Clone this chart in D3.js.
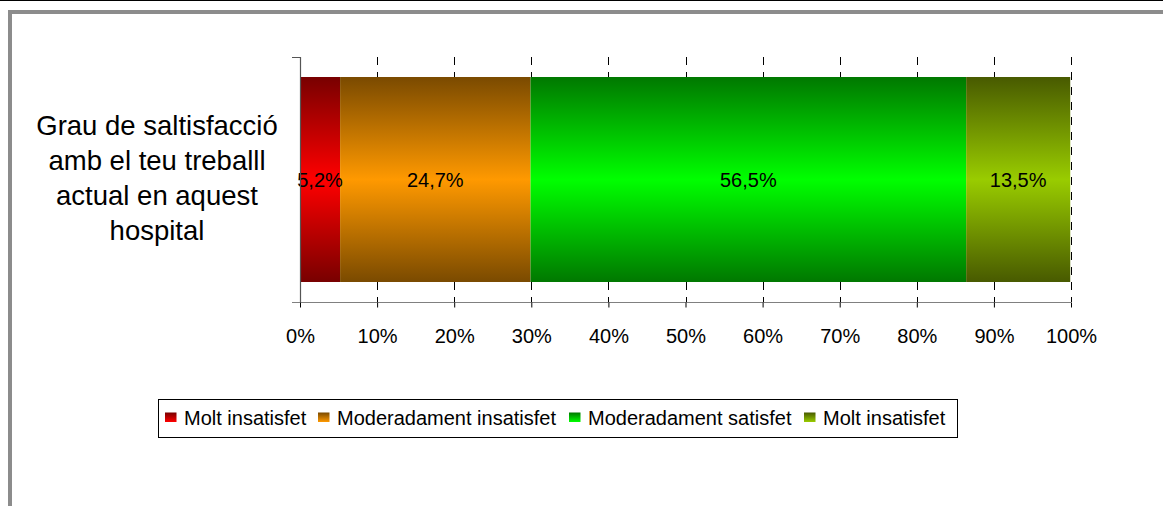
<!DOCTYPE html>
<html lang="ca">
<head>
<meta charset="utf-8">
<title>Grau de satisfacció</title>
<script src="https://d3js.org/d3.v7.min.js"></script>
<style>
  body { margin: 0; background: #fff; }
  svg text { font-family: "Liberation Sans", Arial, sans-serif; }
</style>
</head>
<body>
<script>
// data
var category = ["Grau de saltisfacció", "amb el teu treballl", "actual en aquest", "hospital"]
var seriesNames = ["Molt insatisfet", "Moderadament insatisfet", "Moderadament satisfet", "Molt insatisfet"]
var seriesValues = [5.2, 24.7, 56.5, 13.5]
var valueLabels = ["5,2%", "24,7%", "56,5%", "13,5%"]
var tickValues = [0, 10, 20, 30, 40, 50, 60, 70, 80, 90, 100]
var tickLabels = ["0%", "10%", "20%", "30%", "40%", "50%", "60%", "70%", "80%", "90%", "100%"]
// gradient colours: edge (dark) and middle (bright)
var darkColors = ["#780000", "#7a4a00", "#007800", "#485a00"]
var brightColors = ["#ff0000", "#ff9900", "#00ff00", "#99cc00"]

var w = 1163, h = 506

var svg = d3.select("body").append("svg")
  .attr("width", w)
  .attr("height", h)

var defs = svg.append("defs")
seriesValues.forEach(function(v, i) {
  var g = defs.append("linearGradient")
    .attr("id", "grad" + i)
    .attr("x1", 0).attr("y1", 0).attr("x2", 0).attr("y2", 1)
  g.append("stop").attr("offset", "0%").attr("stop-color", darkColors[i])
  g.append("stop").attr("offset", "50%").attr("stop-color", brightColors[i])
  g.append("stop").attr("offset", "100%").attr("stop-color", darkColors[i])
  var s = defs.append("linearGradient")
    .attr("id", "sw" + i)
    .attr("x1", 0).attr("y1", 0).attr("x2", 0).attr("y2", 1)
  s.append("stop").attr("offset", "0%").attr("stop-color", darkColors[i])
  s.append("stop").attr("offset", "100%").attr("stop-color", brightColors[i])
})

// outer frame
svg.append("line").attr("x1", 0).attr("x2", w).attr("y1", 0.5).attr("y2", 0.5)
  .attr("stroke", "#000").attr("stroke-width", 1)
svg.append("path")
  .attr("d", "M10," + h + " L10,12 L" + w + ",12")
  .attr("fill", "none").attr("stroke", "#8c8c8c").attr("stroke-width", 4)

// plot area
var plotTop = 57, plotBottom = 302

// scales
var x = d3.scaleLinear().domain([0, 100]).range([300, 1071])
var y = d3.scaleBand().domain(["c"]).range([plotTop, plotBottom]).paddingInner(0).paddingOuter(0.0976)

// gridlines
svg.append("g").selectAll("line")
  .data(tickValues.slice(1))
  .enter().append("line")
  .attr("x1", function(d) { return Math.round(x(d)) + 0.5 })
  .attr("x2", function(d) { return Math.round(x(d)) + 0.5 })
  .attr("y1", plotTop).attr("y2", plotBottom)
  .attr("stroke", "#000").attr("stroke-width", 1)
  .attr("stroke-dasharray", "8,7")

// stacked bars
var starts = []
var acc = 0
seriesValues.forEach(function(v) { starts.push(acc); acc += v })

svg.append("g").selectAll("rect")
  .data(seriesValues)
  .enter().append("rect")
  .attr("x", function(d, i) { return x(starts[i]) })
  .attr("y", y("c"))
  .attr("width", function(d, i) { return x(starts[i] + d) - x(starts[i]) })
  .attr("height", y.bandwidth())
  .attr("fill", function(d, i) { return "url(#grad" + i + ")" })

svg.append("g").selectAll("text")
  .data(seriesValues)
  .enter().append("text")
  .attr("x", function(d, i) { return x(starts[i] + d / 2) })
  .attr("y", y("c") + y.bandwidth() / 2)
  .attr("dy", "0.35em")
  .attr("text-anchor", "middle")
  .attr("font-size", "20px")
  .attr("fill", "#000")
  .text(function(d, i) { return valueLabels[i] })

// value axis
var xAxis = d3.axisBottom(x)
  .tickValues(tickValues)
  .tickFormat(function(d, i) { return tickLabels[i] })
  .tickSize(5)
  .tickPadding(21)
var gx = svg.append("g").attr("transform", "translate(0," + (plotBottom + 0.5) + ")").call(xAxis)
gx.select(".domain").attr("stroke", "#808080").attr("d", "M292,0H1071")
gx.selectAll(".tick line").attr("stroke", "#000")
gx.selectAll(".tick text").attr("font-size", "20px").attr("fill", "#000")
  .attr("font-family", "'Liberation Sans', Arial, sans-serif")

// category axis
svg.append("path")
  .attr("d", "M292," + (plotTop + 0.5) + "H300.5V" + plotBottom)
  .attr("fill", "none").attr("stroke", "#555").attr("stroke-width", 1.2)

// category label
svg.append("g").selectAll("text")
  .data(category)
  .enter().append("text")
  .attr("x", 157)
  .attr("y", function(d, i) { return 135 + i * 35 })
  .attr("text-anchor", "middle")
  .attr("font-size", "27.5px")
  .attr("fill", "#000")
  .text(function(d) { return d })

// legend
var legend = svg.append("g")
legend.append("rect")
  .attr("x", 158.5).attr("y", 399.5).attr("width", 799).attr("height", 38)
  .attr("fill", "#fff").attr("stroke", "#000").attr("stroke-width", 1)

var legendX = [165, 318, 569, 804]
var items = legend.selectAll("g.item")
  .data(seriesNames)
  .enter().append("g")
  .attr("class", "item")
  .attr("transform", function(d, i) { return "translate(" + legendX[i] + ",425)" })
items.append("rect")
  .attr("x", 0).attr("y", -12.5).attr("width", 11.5).attr("height", 9.5)
  .attr("fill", function(d, i) { return "url(#sw" + i + ")" })
items.append("text")
  .attr("x", 19)
  .attr("font-size", "20px")
  .attr("fill", "#000")
  .text(function(d) { return d })
</script>
</body>
</html>
